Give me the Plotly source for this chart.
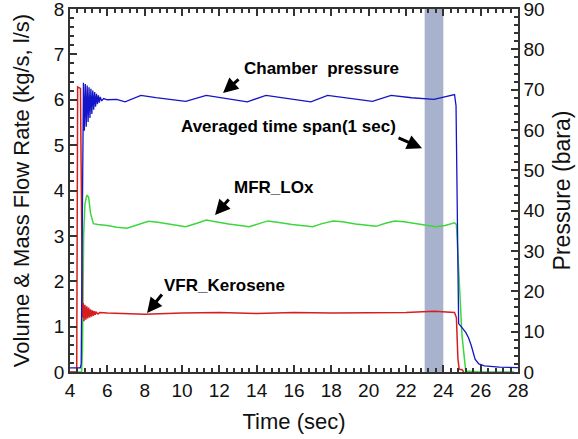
import plotly.graph_objects as go

# chamber pressure (bar), right axis
p_time = [4.0, 4.55, 4.6, 4.65, 4.72, 4.77, 4.82, 4.87, 4.92, 4.97, 5.02, 5.07,
          5.12, 5.17, 5.22, 5.27, 5.32, 5.37, 5.42, 5.47, 5.52, 5.57, 5.62, 5.7,
          5.8, 6.0, 6.5, 6.95, 7.8, 8.6, 10.2, 11.3, 12.3, 13.5, 14.5, 15.6,
          16.9, 17.8, 19.0, 20.2, 21.2, 22.3, 23.5, 24.6, 24.68, 24.75, 24.82,
          25.0, 25.2, 25.35, 25.5, 25.7, 25.9, 26.2, 27.0, 28.0]
p_val = [1.0, 1.0, 2.0, 30.0, 71.7, 59.8, 71.4, 60.8, 71.0, 62.0, 70.6, 63.0,
         70.2, 64.0, 69.8, 65.0, 69.4, 65.8, 69.0, 66.4, 68.6, 66.8, 68.2, 67.2,
         67.8, 67.5, 67.6, 67.0, 68.6, 68.0, 67.1, 68.6, 67.9, 67.0, 68.6, 67.8,
         67.0, 68.6, 67.8, 67.1, 68.6, 68.0, 67.6, 68.8, 66.0, 40.0, 12.0,
         11.0, 9.8, 8.5, 6.5, 3.2, 2.0, 1.5, 1.2, 1.1]

# LOx mass flow rate (kg/s)
lox_time = [4.0, 4.62, 4.67, 4.73, 4.8, 4.9, 5.0, 5.1, 5.25, 5.5, 6.0, 6.5,
            7.05, 7.6, 8.2, 8.7, 9.3, 10.2, 10.8, 11.3, 11.8, 12.5, 13.6, 14.1,
            14.6, 15.1, 15.9, 17.0, 17.5, 18.1, 18.6, 19.3, 20.4, 20.9, 21.4,
            21.9, 22.6, 23.6, 24.1, 24.6, 24.7, 24.85, 25.0, 25.2, 26.0, 27.8]
lox_val = [0.0, 0.0, 0.5, 3.0, 3.7, 3.9, 3.85, 3.5, 3.27, 3.25, 3.23, 3.19,
           3.17, 3.25, 3.32, 3.3, 3.26, 3.2, 3.28, 3.35, 3.31, 3.26, 3.2, 3.26,
           3.33, 3.3, 3.25, 3.2, 3.27, 3.33, 3.31, 3.26, 3.21, 3.28, 3.33,
           3.31, 3.26, 3.2, 3.23, 3.29, 3.25, 2.0, 0.8, 0.02, 0.0, 0.0]

# kerosene volume flow rate (l/s)
ker_time = [4.0, 4.36, 4.41, 4.56, 4.67, 4.71, 4.75, 4.8, 4.85, 4.9, 4.95,
            5.0, 5.05, 5.1, 5.15, 5.2, 5.25, 5.3, 5.35, 5.4, 5.5, 5.6, 6.0,
            8.0, 10.0, 12.0, 14.0, 16.0, 18.0, 20.0, 22.0, 23.5, 24.6, 24.7,
            24.78, 24.85, 25.0, 25.1]
ker_val = [0.0, 0.0, 6.28, 6.25, 1.2, 1.52, 1.12, 1.48, 1.15, 1.45, 1.18,
           1.42, 1.2, 1.38, 1.22, 1.36, 1.24, 1.34, 1.26, 1.32, 1.28, 1.31, 1.3,
           1.27, 1.3, 1.31, 1.29, 1.31, 1.3, 1.31, 1.31, 1.34, 1.31, 1.2,
           0.3, 0.06, 0.05, 0.0]

span_start, span_end = 23, 24

x_ticks = [4, 6, 8, 10, 12, 14, 16, 18, 20, 22, 24, 26, 28]
y_ticks = [0, 1, 2, 3, 4, 5, 6, 7, 8]
y2_ticks = [0, 10, 20, 30, 40, 50, 60, 70, 80, 90]

fig = go.Figure()

fig.add_shape(type='rect', x0=span_start, x1=span_end, xref='x',
              y0=0, y1=1, yref='paper', fillcolor='rgb(168,178,204)',
              line_width=0, layer='below')

fig.add_trace(go.Scatter(x=lox_time, y=lox_val, mode='lines',
                         line=dict(color='rgb(60,215,60)', width=1.5)))
fig.add_trace(go.Scatter(x=ker_time, y=ker_val, mode='lines',
                         line=dict(color='rgb(215,30,30)', width=1.5)))
fig.add_trace(go.Scatter(x=p_time, y=p_val, mode='lines', yaxis='y2',
                         line=dict(color='rgb(20,20,200)', width=1.3)))

label_font = dict(family='Liberation Sans, Arial', size=17, color='black',
                  weight='bold')

labels = [
    ('Chamber  pressure', 17.45, 6.68),
    ('Averaged time span(1 sec)', 15.73, 5.42),
    ('MFR_LOx', 14.93, 4.06),
    ('VFR_Kerosene', 12.30, 1.90),
]
for txt, lx, ly in labels:
    fig.add_annotation(x=lx, y=ly, text=txt, showarrow=False, font=label_font)

# arrows: head position, tail offset in px
arrows = [(12.20, 6.15, 17, -15), (22.86, 4.93, -25, -11),
          (11.77, 3.46, 15, -17), (8.13, 1.30, 16, -20)]
for hx, hy, tx, ty in arrows:
    fig.add_annotation(x=hx, y=hy, ax=tx, ay=ty, text='', showarrow=True,
                       arrowhead=2, arrowsize=1, arrowwidth=3,
                       arrowcolor='black')

axis_font = dict(family='Liberation Sans, Arial', size=19, color='#111')
title_font = dict(family='Liberation Sans, Arial', size=22, color='#111')

fig.update_layout(
    width=578, height=439,
    margin=dict(l=70, r=60, t=9, b=67),
    plot_bgcolor='white', paper_bgcolor='white',
    showlegend=False,
    xaxis=dict(range=[4, 28], tickvals=x_ticks, ticks='inside', ticklen=7,
               tickwidth=1.5, tickcolor='#333', showline=True, linewidth=1.5,
               linecolor='#333', mirror='ticks', showgrid=False, zeroline=False,
               tickfont=axis_font, automargin=False, ticklabeloverflow='allow',
               minor=dict(dtick=0.4, ticks='inside', ticklen=4,
                          tickcolor='#333', showgrid=False),
               title=dict(text='Time (sec)', font=title_font, standoff=14)),
    yaxis=dict(range=[0, 8], tickvals=y_ticks, ticks='inside', ticklen=7,
               tickwidth=1.5, tickcolor='#333', showline=True, linewidth=1.5,
               linecolor='#333', showgrid=False, zeroline=False,
               tickfont=axis_font, automargin=False, ticklabeloverflow='allow',
               minor=dict(dtick=0.2, ticks='inside', ticklen=4,
                          tickcolor='#333', showgrid=False),
               title=dict(text='Volume & Mass Flow Rate (kg/s, l/s)',
                          font=title_font, standoff=18)),
    yaxis2=dict(range=[0, 90], tickvals=y2_ticks, overlaying='y', side='right',
                ticks='inside', ticklen=7, tickwidth=1.5, tickcolor='#333',
                showline=True, linewidth=1.5, linecolor='#333', showgrid=False,
                zeroline=False, tickfont=axis_font, automargin=False,
                ticklabeloverflow='allow',
                minor=dict(dtick=2, ticks='inside', ticklen=4,
                           tickcolor='#333', showgrid=False),
                title=dict(text='Pressure (bara)',
                           font=dict(family='Liberation Sans, Arial', size=23,
                                     color='#111'),
                           standoff=10)),
)

fig.write_html('out.html', config={'displayModeBar': False},
               post_script="document.body.style.margin='0';")
